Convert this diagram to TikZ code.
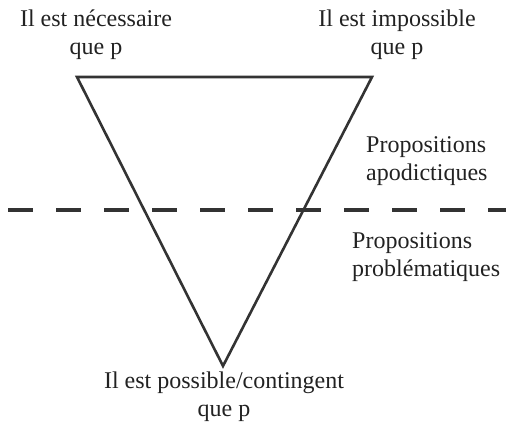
\documentclass[tikz,border=0pt]{standalone}
\usepackage{fontspec}
\setmainfont{Liberation Serif}
\usetikzlibrary{positioning}
\definecolor{lineGray}{HTML}{333333}
\definecolor{textDark}{HTML}{222222}

\begin{document}
\begin{tikzpicture}[x=1pt, y=-1pt,
    lbl/.style={inner sep=0pt, align=center, text=textDark,
                font=\fontsize{24}{28}\selectfont},
    side/.style={lbl, align=left, anchor=north west},
    tri/.style={draw=lineGray, line width=2.6pt, line join=miter},
    sep/.style={draw=lineGray, line width=3.4pt, dash pattern=on 25pt off 23pt},
  ]
    \useasboundingbox (0,0) rectangle (506,433);
    % corners of the triangle
    \coordinate (cnec) at (77,77);
    \coordinate (cimp) at (372,77);
    \coordinate (cpos) at (223,366);
    \draw[tri] (cnec) -- (cimp) -- (cpos) -- cycle;
    % separation line
    \coordinate (dl) at (8,210);
    \coordinate (dr) at (506,210);
    \draw[sep] (dl) -- (dr);
    % labels
    \node[lbl, anchor=north] (nec) at (96,10) {Il est nécessaire\\que p};
    \node[lbl, anchor=north] (imp) at (397,10) {Il est impossible\\que p};
    \node[lbl, anchor=north] (pos) at (224,372) {Il est possible/contingent\\que p};
    \node[side] (apod) at (366,136) {Propositions\\apodictiques};
    \node[side] (prob) at (352,232) {Propositions\\problématiques};
  \end{tikzpicture}
\end{document}
